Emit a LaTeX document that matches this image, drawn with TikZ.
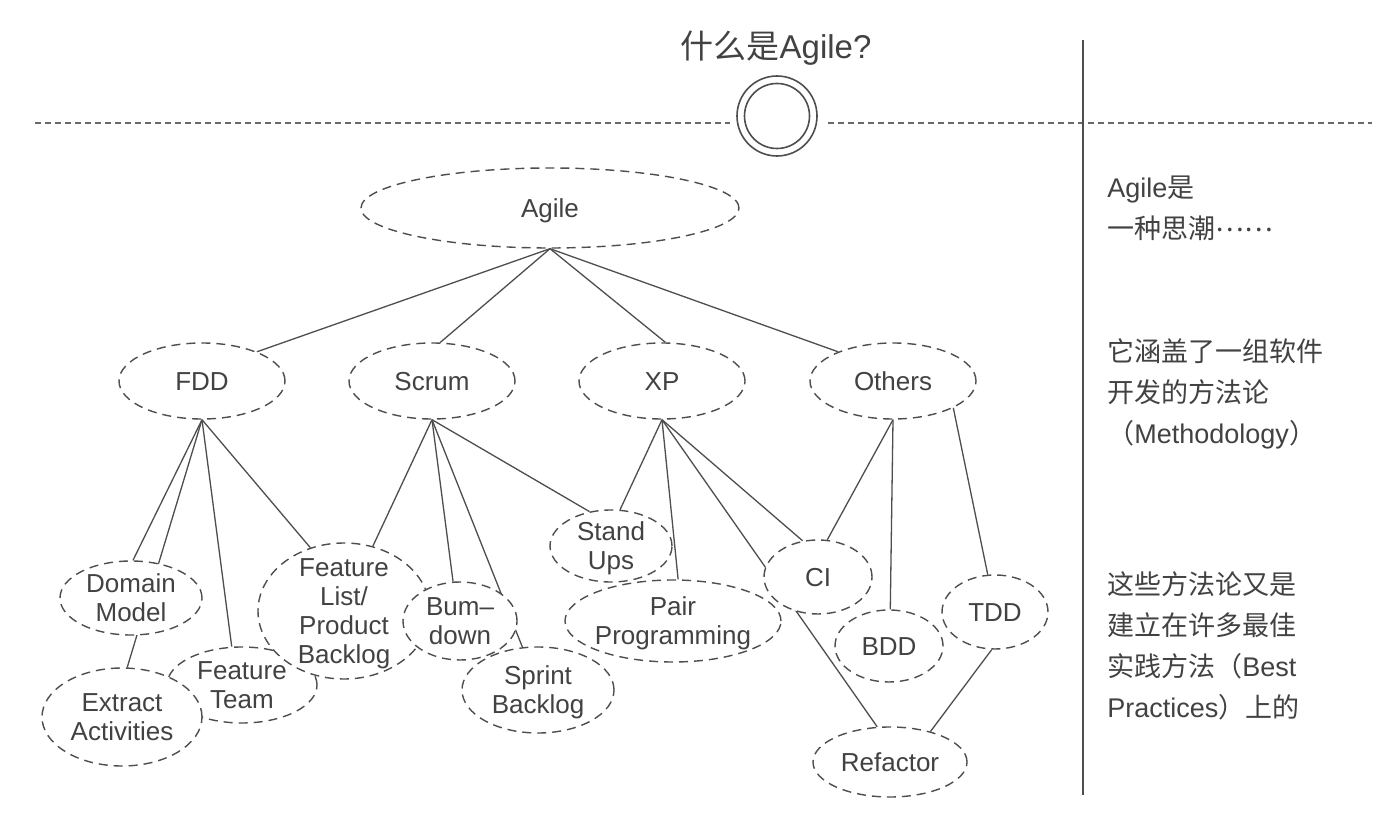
\documentclass[tikz,border=0pt]{standalone}
\usepackage{fontspec}
\setmainfont{Liberation Sans}
\newfontfamily\cjk{Noto Sans CJK SC}
\usetikzlibrary{shapes.geometric}
\definecolor{ink}{RGB}{66,66,66}
\definecolor{lineink}{RGB}{78,78,78}
\pgfdeclarelayer{bg}
\pgfsetlayers{bg,main}
\newcommand\ctext[1]{\raisebox{-.37em}[0pt][0pt]{\makebox[0pt]{\begin{tabular}{@{}c@{}}#1\end{tabular}}}}
\tikzset{
  ell/.style={ellipse, draw=lineink, dash pattern=on 4.5pt off 3pt, line width=0.7pt,
    fill=white, inner sep=0pt, text=ink, font=\fontsize{13}{14.5}\selectfont},
  conn/.style={draw=lineink, line width=0.65pt},
  rtext/.style={anchor=west, align=left, inner sep=0pt, text=ink, font=\fontsize{13.5}{20.5}\selectfont},
  hdash/.style={draw=lineink!85, line width=0.6pt, dash pattern=on 3pt off 2pt},
  vline/.style={draw=lineink, line width=0.75pt},
  ringline/.style={draw=lineink, line width=0.8pt}
}
\begin{document}
\begin{tikzpicture}[x=0.5pt,y=-0.5pt]
\begin{pgfonlayer}{bg}
\fill[white] (0,0) rectangle (1391,817);
\end{pgfonlayer}
\useasboundingbox (0,0) rectangle (1391,817);

% title and header
\node[text=ink, font=\fontsize{16.5}{20}\selectfont, inner sep=0pt] (title) at (776,48) {{\cjk 什么是}Agile?};
\coordinate (ringc) at (777,116);
\draw[ringline] (ringc) circle[radius=20pt];
\draw[ringline] (ringc) circle[radius=16.25pt];
\coordinate (hl1) at (35,123);
\coordinate (hl2) at (730,123);
\coordinate (hr1) at (828,123);
\coordinate (hr2) at (1372,123);
\draw[hdash] (hl1) -- (hl2);
\draw[hdash] (hr1) -- (hr2);
\coordinate (vt) at (1083,40);
\coordinate (vb) at (1083,795);
\draw[vline] (vt) -- (vb);

% right texts
\node[rtext] (t1) at (1107,208) {Agile{\cjk 是}\\{\cjk 一种思潮\raisebox{0.25em}{……}}};
\node[rtext] (t2) at (1107,394) {{\cjk 它涵盖了一组软件}\\{\cjk 开发的方法论}\\{\cjk （}Methodology{\cjk ）}};
\node[rtext] (t3) at (1107,646) {{\cjk 这些方法论又是}\\{\cjk 建立在许多最佳}\\{\cjk 实践方法（}Best\\Practices{\cjk ）上的}};

% nodes
\node[ell, minimum width=189pt, minimum height=40pt] (Agile) at (550,208) {\ctext{Agile}};
\node[ell, minimum width=83pt, minimum height=38pt] (FDD) at (202,381) {\ctext{FDD}};
\node[ell, minimum width=83pt, minimum height=38pt] (Scrum) at (432,381) {\ctext{Scrum}};
\node[ell, minimum width=83pt, minimum height=38pt] (XP) at (662,381) {\ctext{XP}};
\node[ell, minimum width=83pt, minimum height=38pt] (Others) at (893,381) {\ctext{Others}};
\node[ell, minimum width=75pt, minimum height=38pt] (FT) at (242,685) {\ctext{Feature\\Team}};
\node[ell, minimum width=80pt, minimum height=49pt] (EA) at (122,717) {\ctext{Extract\\Activities}};
\node[ell, minimum width=71pt, minimum height=37pt] (DM) at (131,598) {\ctext{Domain\\Model}};
\node[ell, minimum width=86pt, minimum height=68pt] (FL) at (344,611) {\ctext{Feature\\List/\\Product\\Backlog}};
\node[ell, minimum width=57pt, minimum height=39pt] (BD) at (460,621) {\ctext{Bum–\\down}};
\node[ell, minimum width=76pt, minimum height=43pt] (SB) at (538,690) {\ctext{Sprint\\Backlog}};
\node[ell, minimum width=61pt, minimum height=36pt] (SU) at (611,546) {\ctext{Stand\\Ups}};
\node[ell, minimum width=108pt, minimum height=41pt] (PP) at (673,621) {\ctext{Pair\\Programming}};
\node[ell, minimum width=54pt, minimum height=37pt] (CI) at (818,577) {\ctext{CI}};
\node[ell, minimum width=54pt, minimum height=36pt] (BDD) at (889,646) {\ctext{BDD}};
\node[ell, minimum width=53pt, minimum height=37pt] (TDD) at (995,612) {\ctext{TDD}};
\node[ell, minimum width=77pt, minimum height=35pt] (RF) at (890,762) {\ctext{Refactor}};

% connectors (behind the nodes)
\begin{pgfonlayer}{bg}
\draw[conn] (Agile.south) -- (FDD.28);
\draw[conn] (Agile.south) -- (Scrum.78);
\draw[conn] (Agile.south) -- (XP.85);
\draw[conn] (Agile.south) -- (Others.152);
\draw[conn] (FDD.south) -- (DM.87);
\draw[conn] (FDD.south) -- (EA.84);
\draw[conn] (FDD.south) -- (FT.105);
\draw[conn] (FDD.south) -- (FL.118);
\draw[conn] (Scrum.south) -- (FL.66);
\draw[conn] (Scrum.south) -- (BD.100);
\draw[conn] (Scrum.south) -- (SB.110);
\draw[conn] (Scrum.south) -- (SU.122);
\draw[conn] (XP.south) -- (SU.76);
\draw[conn] (XP.south) -- (PP.83);
\draw[conn] (XP.south) -- (RF.110);
\draw[conn] (XP.south) -- (CI.113);
\draw[conn] (Others.south) -- (CI.76);
\draw[conn] (Others.south) -- (BDD.88);
\draw[conn] (Others.-24) -- (TDD.101);
\draw[conn] (TDD.265) -- (RF.37);
\end{pgfonlayer}
\end{tikzpicture}
\end{document}
